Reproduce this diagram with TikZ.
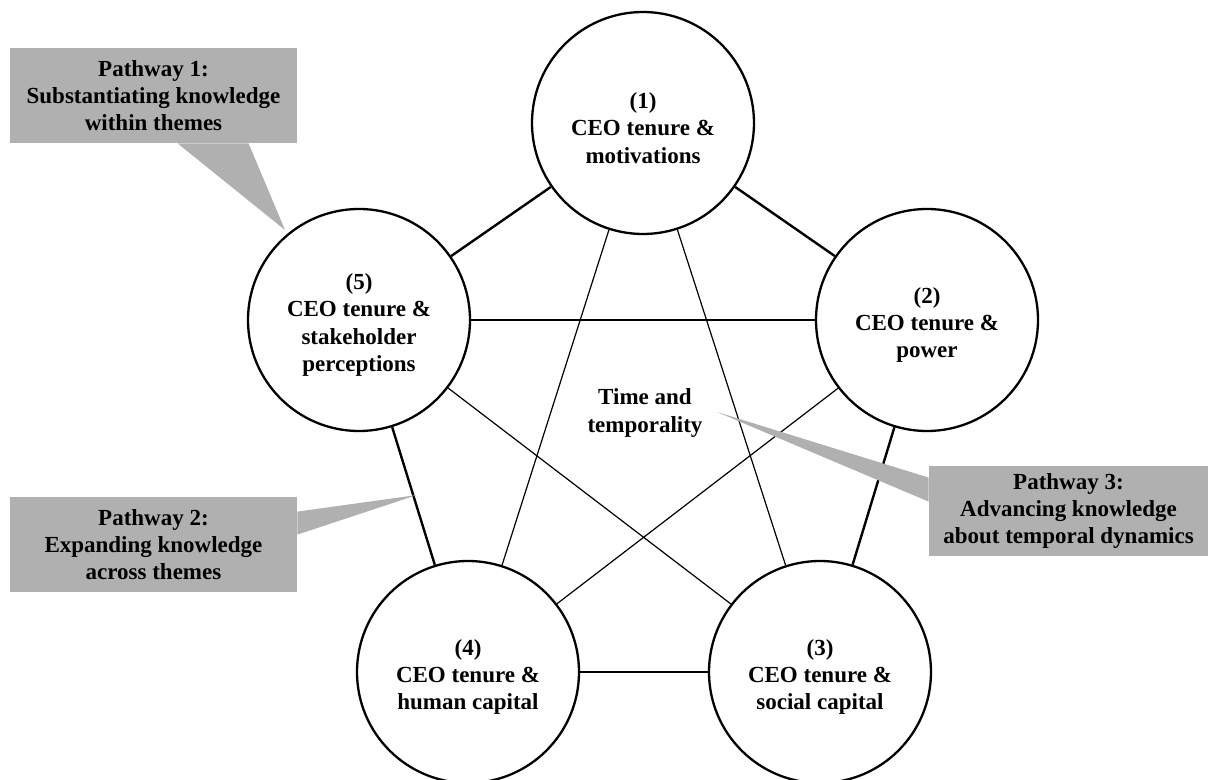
\documentclass[tikz,border=0pt]{standalone}
\usepackage{fontspec}
\setmainfont{Liberation Serif}
\usetikzlibrary{calc}
\definecolor{callgray}{RGB}{176,176,176}
\begin{document}
\begin{tikzpicture}[x=0.5pt,y=-0.5pt,
  lbl/.style={font=\bfseries\fontsize{11.5}{13.6}\selectfont,align=center},
  theme/.style={circle,draw,line width=1.15pt,minimum size=111pt,inner sep=0pt,fill=white,
    label={[lbl,yshift=-2.5pt]center:#1}},
  callbox/.style={lbl,fill=callgray,inner sep=0pt},
  edgeline/.style={line width=1.2pt},
  diagline/.style={line width=0.6pt}]
\useasboundingbox (0,0) rectangle (1211,780);
% themes
\node[theme={(1)\\CEO tenure \&\\motivations}] (c1) at (643,123) {};
\node[theme={(2)\\CEO tenure \&\\power}] (c2) at (927,320) {};
\node[theme={(3)\\CEO tenure \&\\social capital}] (c3) at (820,672) {};
\node[theme={(4)\\CEO tenure \&\\human capital}] (c4) at (468,672) {};
\node[theme={(5)\\CEO tenure \&\\stakeholder\\perceptions}] (c5) at (359,320) {};
% adjacent edges
\draw[edgeline] (c1) -- (c2);
\draw[edgeline] (c2) -- (c3);
\draw[edgeline] (c3) -- (c4);
\draw[edgeline] (c4) -- (c5);
\draw[edgeline] (c5) -- (c1);
% diagonals
\draw[diagline] (c1) -- (c3);
\draw[diagline] (c1) -- (c4);
\draw[diagline] (c2) -- (c4);
\draw[diagline] (c2) -- (c5);
\draw[diagline] (c3) -- (c5);
% centre text
\node[lbl] (tt) at (645,413) {Time and\\temporality};
% callouts
\node[callbox,minimum width=143.5pt,minimum height=47.5pt] (p1) at (153.5,95.5)
  {Pathway 1:\\Substantiating knowledge\\within themes};
\coordinate (t1) at (285,230);
\fill[callgray] ($(p1.south west)+(168,0)$) -- (t1) -- ($(p1.south west)+(239,0)$) -- cycle;
\node[callbox,minimum width=143.5pt,minimum height=47.5pt] (p2) at (153.5,544.5)
  {Pathway 2:\\Expanding knowledge\\across themes};
\coordinate (t2) at (417,495);
\fill[callgray] ($(p2.north east)+(0,15)$) -- (t2) -- ($(p2.north east)+(0,38)$) -- cycle;
\node[callbox,minimum width=139.5pt,minimum height=45pt] (p3) at (1068.5,511)
  {Pathway 3:\\Advancing knowledge\\about temporal dynamics};
\coordinate (t3) at (717,412);
\fill[callgray] ($(p3.north west)+(0,12)$) -- (t3) -- ($(p3.north west)+(0,36)$) -- cycle;
\end{tikzpicture}
\end{document}
